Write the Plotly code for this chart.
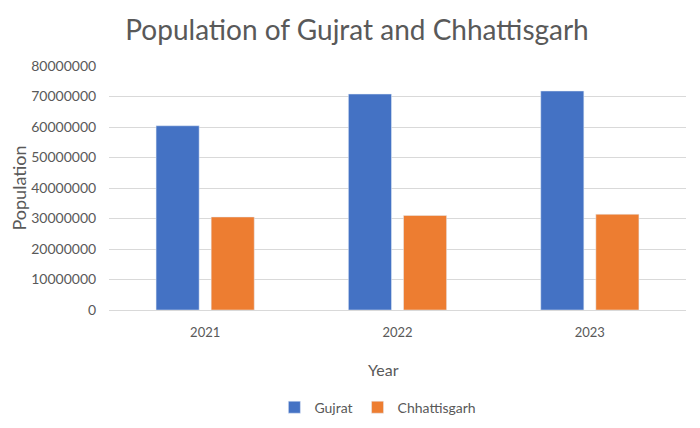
import plotly.graph_objects as go

years = ["2021", "2022", "2023"]
gujrat = [60400000, 70800000, 71800000]
chhattisgarh = [30500000, 31000000, 31400000]
y_ticks = [0, 10000000, 20000000, 30000000, 40000000, 50000000, 60000000, 70000000, 80000000]

grey = "#595959"
font_family = "Lato"

fig = go.Figure()
fig.add_trace(go.Bar(name="Gujrat", x=years, y=gujrat, marker_color="#4472C4"))
fig.add_trace(go.Bar(name="Chhattisgarh", x=years, y=chhattisgarh, marker_color="#ED7D31"))

fig.update_layout(
    width=700, height=428,
    margin=dict(l=101, r=22, t=58, b=126, autoexpand=False),
    paper_bgcolor="white", plot_bgcolor="white",
    barmode="group", bargap=0.427, bargroupgap=0.218,
    title=dict(text="Population of Gujrat and Chhattisgarh", x=0.4986, xref="container", xanchor="center",
               y=0.949, yref="container", yanchor="middle",
               font=dict(family=font_family, size=28, color=grey)),
    font=dict(family=font_family, size=14, color=grey),
    showlegend=True,
    legend=dict(orientation="h", x=0.466, xanchor="center", y=-0.40, yanchor="middle",
                font=dict(size=14, color=grey), itemwidth=30),
    xaxis=dict(automargin=False,
               showline=True, linecolor="#d9d9d9", linewidth=1,
               ticks="outside", ticklen=10, tickcolor="rgba(0,0,0,0)",
               tickfont=dict(size=13, color=grey)),
    yaxis=dict(title=dict(text="Population", font=dict(size=18, color=grey), standoff=6),
               automargin=False,
               range=[0, 80000000], tickvals=y_ticks, ticktext=[str(v) for v in y_ticks],
               showgrid=True, gridcolor="#d9d9d9", gridwidth=1, zeroline=False,
               tickfont=dict(size=14, color=grey),
               ticks="outside", ticklen=9, tickcolor="rgba(0,0,0,0)"),
    annotations=[dict(text="Year", xref="paper", yref="paper", x=0.476, y=-0.242,
                      xanchor="center", yanchor="middle", showarrow=False,
                      font=dict(size=16, color=grey))],
)

fig.write_html("out.html")
